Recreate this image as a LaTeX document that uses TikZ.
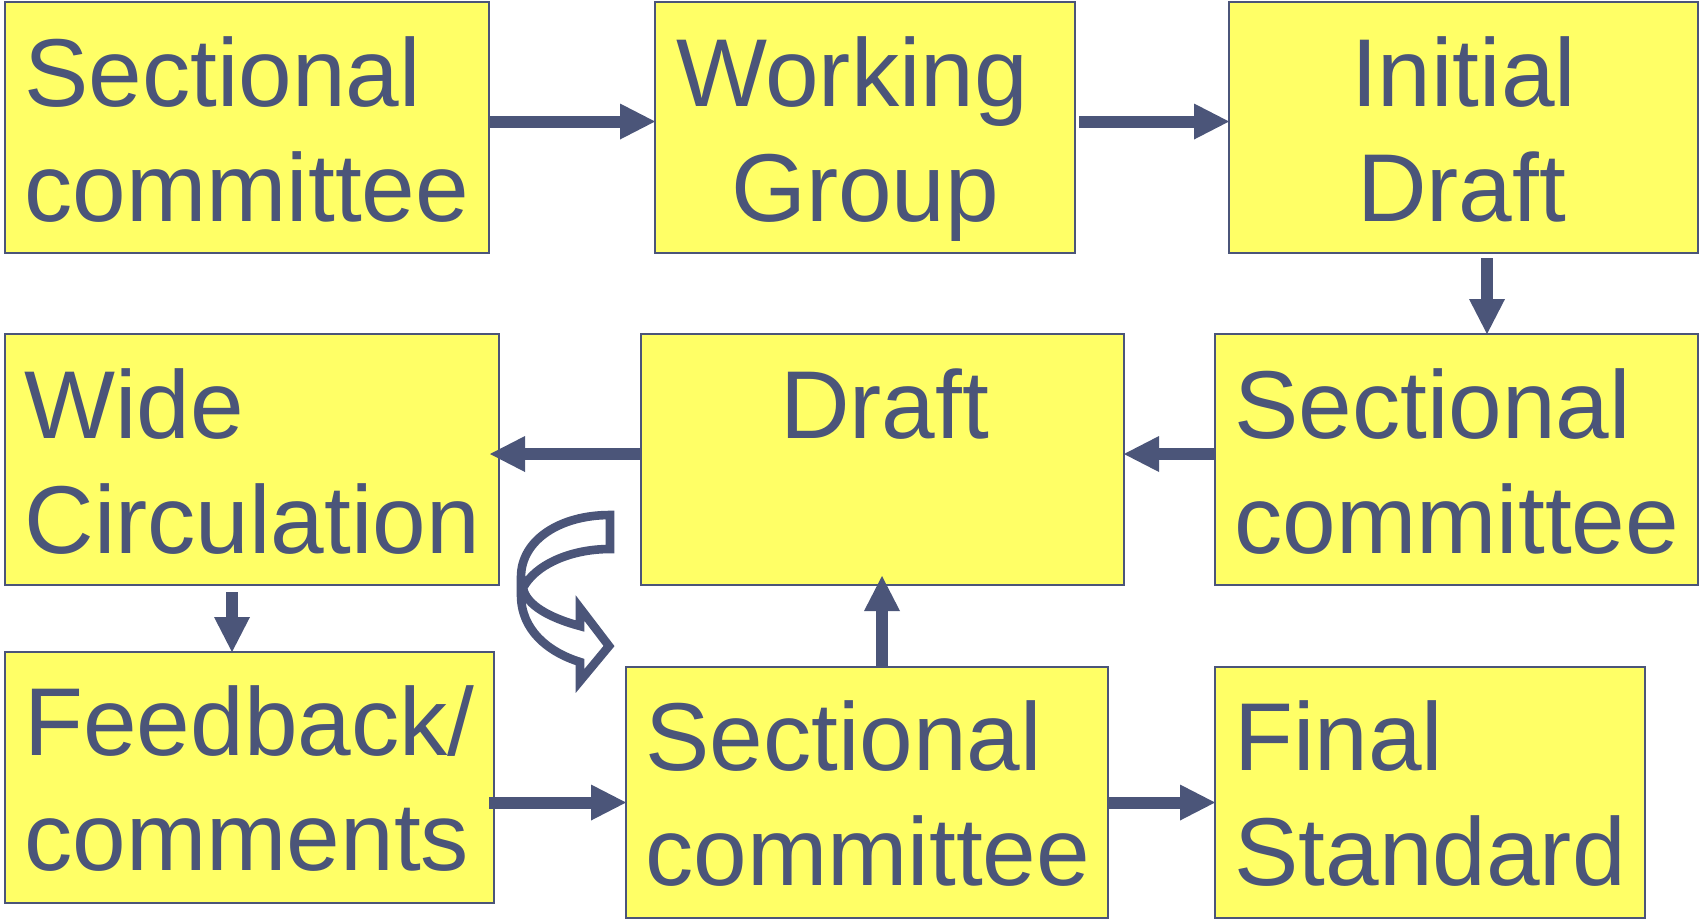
\documentclass[tikz,border=0pt]{standalone}
\usepackage{fontspec}
\setmainfont{Liberation Sans}
\usetikzlibrary{arrows.meta,calc}
\definecolor{ink}{RGB}{75,85,121}
\definecolor{boxY}{RGB}{255,255,102}
\tikzset{
  box/.style={draw=ink, fill=boxY, line width=1pt, inner sep=0pt, outer sep=0pt,
    minimum height=125.5pt, anchor=north west, rectangle},
  txt/.style={font=\fontsize{48.2pt}{57.5pt}\selectfont, text=ink, inner sep=0pt, anchor=base west},
  ctxt/.style={txt, anchor=base},
  flow/.style={draw=ink, line width=6pt,
    -{Triangle[length=17.5pt,width=18pt,line width=0pt]}},
  uturn/.style={draw=ink, fill=white, line width=4.3pt, line join=miter}
}
\begin{document}
\begin{tikzpicture}[x=0.5pt,y=-0.5pt]
\useasboundingbox (0,0) rectangle (1700,923);
% boxes
\node[box, minimum width=242pt]   (sc1)   at (5,2) {};
\node[box, minimum width=210pt]   (wg)    at (655,2) {};
\node[box, minimum width=234.5pt] (id)    at (1229,2) {};
\node[box, minimum width=247pt]   (wide)  at (5,334) {};
\node[box, minimum width=241.5pt] (draft) at (641,334) {};
\node[box, minimum width=241.5pt] (sc2)   at (1215,334) {};
\node[box, minimum width=244.5pt] (fb)    at (5,652) {};
\node[box, minimum width=241pt]   (sc3)   at (626,667) {};
\node[box, minimum width=215pt]   (fin)   at (1215,667) {};
% texts
\node[txt] (t1a) at ($(sc1.north west)+(19,104)$) {Sectional};
\node[txt] (t1b) at ($(sc1.north west)+(19,219)$) {committee};
\node[ctxt] (t2a) at ($(wg.north)+(-13,104)$) {Working};
\node[ctxt] (t2b) at ($(wg.north)+(0,219)$) {Group};
\node[ctxt] (t3a) at ($(id.north)+(0,104)$) {Initial};
\node[ctxt] (t3b) at ($(id.north)+(-2,219)$) {Draft};
\node[txt] (t4a) at ($(wide.north west)+(19,104)$) {Wide};
\node[txt] (t4b) at ($(wide.north west)+(19,219)$) {Circulation};
\node[ctxt] (t5a) at ($(draft.north)+(2,104)$) {Draft};
\node[txt] (t6a) at ($(sc2.north west)+(19,104)$) {Sectional};
\node[txt] (t6b) at ($(sc2.north west)+(19,219)$) {committee};
\node[txt] (t7a) at ($(fb.north west)+(19,103)$) {Feedback/};
\node[txt] (t7b) at ($(fb.north west)+(19,218)$) {comments};
\node[txt] (t8a) at ($(sc3.north west)+(19,103)$) {Sectional};
\node[txt] (t8b) at ($(sc3.north west)+(19,218)$) {committee};
\node[txt] (t9a) at ($(fin.north west)+(19,103)$) {Final};
\node[txt] (t9b) at ($(fin.north west)+(19,218)$) {Standard};
% guide coordinates
\coordinate (ya) at (0,121.5);
\coordinate (yb) at (0,454);
\coordinate (yc) at (0,802.5);
\coordinate (xa) at (1487,0);
\coordinate (xb) at (232,0);
\coordinate (xc) at (882,0);
% connectors
\draw[flow] (sc1.east |- ya) -- (wg.west |- ya);
\draw[flow] ($(wg.east |- ya)+(4,0)$) -- (id.west |- ya);
\draw[flow] ($(id.south -| xa)+(0,5)$) -- (sc2.north -| xa);
\draw[flow] (sc2.west |- yb) -- (draft.east |- yb);
\draw[flow] (draft.west |- yb) -- ($(wide.east |- yb)+(-9,0)$);
\draw[flow] ($(wide.south -| xb)+(0,7)$) -- (fb.north -| xb);
\draw[flow] ($(fb.east |- yc)+(-5,0)$) -- (sc3.west |- yc);
\draw[flow] (sc3.north -| xc) -- ($(draft.south -| xc)+(0,-9)$);
\draw[flow] (sc3.east |- yc) -- (fin.west |- yc);
% curved (U-turn) arrow
\path[uturn] (610,515) .. controls (560,515) and (521,540) .. (521,577)
  -- (521,595) .. controls (521,630) and (548,652) .. (580,662)
  -- (580,681) -- (609,646) -- (580,608) -- (580,626)
  .. controls (550,618) and (526,605) .. (523,588)
  .. controls (535,565) and (570,549) .. (610,549) -- cycle;
\end{tikzpicture}
\end{document}
